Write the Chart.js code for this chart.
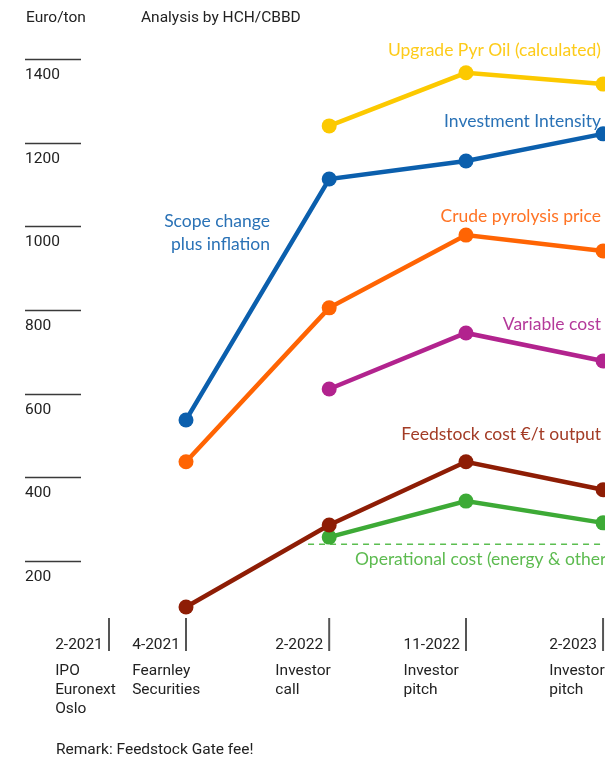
<!DOCTYPE html>
<html>
<head>
<meta charset="utf-8">
<script src="https://cdn.jsdelivr.net/npm/chart.js@4.4.0/dist/chart.umd.min.js"></script>
<style>
  html, body { margin: 0; padding: 0; background: #ffffff; }
  #wrap { position: relative; width: 605px; height: 761px; }
</style>
</head>
<body>
<div id="wrap"><canvas id="c"></canvas></div>
<script>
// ---- data ----
const categories = ['2-2021', '4-2021', '2-2022', '11-2022', '2-2023'];
const descriptions = [['IPO', 'Euronext', 'Oslo'], ['Fearnley', 'Securities'], ['Investor', 'call'], ['Investor', 'pitch'], ['Investor', 'pitch']];
const upgradePyrOil       = [null, null, 1240, 1367, 1340];
const investmentIntensity = [null, 537, 1113, 1156, 1221];
const crudePyrolysisPrice = [null, 437, 805, 979, 941];
const variableCost        = [null, null, 611, 745, 678];
const feedstockCost       = [null, 90, 286, 437, 370];
const operationalCost     = [null, null, 257, 343, 291];
const operationalBaseline = 240;
const yTickValues = [200, 400, 600, 800, 1000, 1200, 1400];
const yAxisTitle = 'Euro/ton';
const sourceNote = 'Analysis by HCH/CBBD';
const remark = 'Remark: Feedstock Gate fee!';

// ---- layout (not data) ----
const xSlots = [0.446, 1, 2.03, 3.014, 4];   // irregular spacing of the time points
const baselineStart = 1.878;

function toPoints(arr) {
  const pts = [];
  arr.forEach((v, i) => { if (v !== null) pts.push({ x: xSlots[i], y: v }); });
  return pts;
}

const seriesStyle = [
  { name: 'Upgrade Pyr Oil (calculated)', data: upgradePyrOil, color: '#FCC900' },
  { name: 'Investment Intensity', data: investmentIntensity, color: '#0B5FAD' },
  { name: 'Crude pyrolysis price', data: crudePyrolysisPrice, color: '#FF6403' },
  { name: 'Variable cost', data: variableCost, color: '#B2238E' },
  { name: 'Feedstock cost €/t output', data: feedstockCost, color: '#8E1D05' },
  { name: 'Operational cost', data: operationalCost, color: '#3DAA36' }
];

const datasets = [
  {
    label: 'baseline',
    data: [{ x: baselineStart, y: operationalBaseline }, { x: 4.2, y: operationalBaseline }],
    borderColor: '#5BBE50', borderWidth: 1.6, borderDash: [6, 5],
    pointRadius: 0, fill: false, order: 10
  }
].concat(seriesStyle.map((s, i) => ({
  label: s.name,
  data: toPoints(s.data),
  borderColor: s.color,
  backgroundColor: s.color,
  pointBackgroundColor: s.color,
  pointBorderWidth: 0,
  pointRadius: 7.5,
  borderWidth: 4.5,
  tension: 0,
  fill: false,
  order: i
})));

const textLabels = [
  { lines: ['Upgrade Pyr Oil (calculated)'], x: 601, y: 50, align: 'right', color: '#FDCB1A' },
  { lines: ['Investment Intensity'], x: 601, y: 121, align: 'right', color: '#2A72B6' },
  { lines: ['Scope change', 'plus inflation'], x: 270, y: 221, align: 'right', color: '#2A72B6' },
  { lines: ['Crude pyrolysis price'], x: 601, y: 216, align: 'right', color: '#FF7324' },
  { lines: ['Variable cost'], x: 601, y: 324, align: 'right', color: '#B4399A' },
  { lines: ['Feedstock cost €/t output'], x: 601, y: 434, align: 'right', color: '#A33C26' },
  { lines: ['Operational cost (energy & other)'], x: 355, y: 559, align: 'left', color: '#5DBB50' }
];

const decor = {
  id: 'decor',
  afterDraw(chart) {
    const ctx = chart.ctx;
    const xs = chart.scales.x, ys = chart.scales.y;
    ctx.save();
    const baseFont = '15.5px Roboto';
    // header texts
    ctx.fillStyle = '#222';
    ctx.font = baseFont;
    ctx.textBaseline = 'middle';
    ctx.textAlign = 'left';
    ctx.fillText(yAxisTitle, 26, 18);
    ctx.fillText(sourceNote, 141, 18);
    // y ticks: short line with label below
    yTickValues.forEach(v => {
      const py = Math.round(ys.getPixelForValue(v)) + 0.5;
      ctx.strokeStyle = '#3a3a3a';
      ctx.lineWidth = 1.5;
      ctx.beginPath();
      ctx.moveTo(25, py); ctx.lineTo(81, py); ctx.stroke();
      ctx.fillStyle = '#222';
      ctx.fillText(String(v), 25, py + 16);
    });
    // x ticks and labels
    categories.forEach((c, i) => {
      const px = xs.getPixelForValue(xSlots[i]);
      ctx.strokeStyle = '#555';
      ctx.lineWidth = 2;
      ctx.beginPath();
      ctx.moveTo(px, 618); ctx.lineTo(px, 651); ctx.stroke();
      ctx.fillStyle = '#222';
      ctx.font = baseFont;
      const w = ctx.measureText(c).width;
      const left = px - 6 - w;
      ctx.textAlign = 'left';
      ctx.fillText(c, left, 645);
      descriptions[i].forEach((d, j) => ctx.fillText(d, left, 671 + j * 19));
    });
    ctx.fillText(remark, 56, 750);
    // series annotations
    ctx.font = '17.5px Lato';
    textLabels.forEach(t => {
      ctx.fillStyle = t.color;
      ctx.textAlign = t.align;
      t.lines.forEach((l, j) => ctx.fillText(l, t.x, t.y + j * 23));
    });
    ctx.restore();
  }
};

new Chart(document.getElementById('c'), {
  type: 'line',
  data: { datasets },
  options: {
    responsive: true,
    maintainAspectRatio: false,
    animation: false,
    layout: { padding: 0, autoPadding: false },
    plugins: { legend: { display: false }, tooltip: { enabled: false }, title: { display: false } },
    scales: {
      x: { type: 'linear', display: false, min: -0.338, max: 4.014 },
      y: { type: 'linear', display: false, min: -278.3, max: 1541.0 }
    }
  },
  plugins: [decor]
});
</script>
</body>
</html>
